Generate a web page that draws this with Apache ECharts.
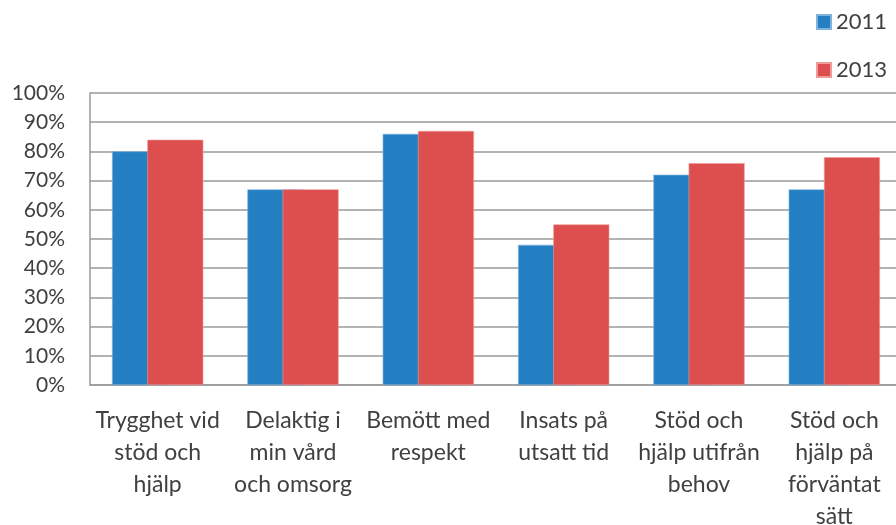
<!DOCTYPE html>
<html>
<head>
<meta charset="utf-8">
<script src="https://cdn.jsdelivr.net/npm/echarts@6/dist/echarts.min.js"></script>
<style>
html,body{margin:0;padding:0;background:#fff;overflow:hidden;}
#main{width:896px;height:525px;}
</style>
</head>
<body>
<div id="main"></div>
<script>
var categories=["Trygghet vid\nstöd och\nhjälp","Delaktig i\nmin vård\noch omsorg","Bemött med\nrespekt","Insats på\nutsatt tid","Stöd och\nhjälp utifrån\nbehov","Stöd och\nhjälp på\nförväntat\nsätt"];
var data2011=[80,67,86,48,72,67];
var data2013=[84,67,87,55,76,78];
var yTicks=[0,10,20,30,40,50,60,70,80,90,100];

var font="Lato";
var myChart=echarts.init(document.getElementById('main'));
var option={
	animation:false,
	backgroundColor:'#fff',
	textStyle:{fontFamily:font},
	legend:{
		orient:'vertical',
		left:816,
		top:11,
		padding:0,
		itemWidth:14,
		itemHeight:14,
		itemGap:26,
		icon:'rect',
		textStyle:{fontSize:22,color:'#404040',fontFamily:font},
		data:['2011','2013']
	},
	grid:{left:90,right:-6,top:93,bottom:140,containLabel:false,outerBoundsMode:'none'},
	xAxis:{
		type:'category',
		data:categories,
		axisLine:{show:true,lineStyle:{color:'#9a9a9a',width:1.5}},
		axisTick:{show:false},
		axisLabel:{interval:0,fontSize:23,lineHeight:32,color:'#404040',margin:20,fontFamily:font}
	},
	yAxis:{
		type:'value',
		min:0,max:100,interval:10,
		axisLine:{show:true,lineStyle:{color:'#9a9a9a',width:1.5}},
		axisTick:{show:false},
		splitLine:{lineStyle:{color:'#9a9a9a',width:1.5}},
		axisLabel:{fontSize:21,color:'#404040',margin:25,fontFamily:font,
			formatter:function(v){return yTicks.indexOf(v)>=0?v+'%':'';}}
	},
	series:[
		{name:'2011',type:'bar',data:data2011,barWidth:56,barGap:'-37%',
			itemStyle:{color:'#2580c3',borderColor:'#7fb3dd',borderWidth:0.6}},
		{name:'2013',type:'bar',data:data2013,barWidth:56,
			itemStyle:{color:'#dd4f4e',borderColor:'#f09a99',borderWidth:0.6}}
	]
};
myChart.setOption(option);
</script>
</body>
</html>
